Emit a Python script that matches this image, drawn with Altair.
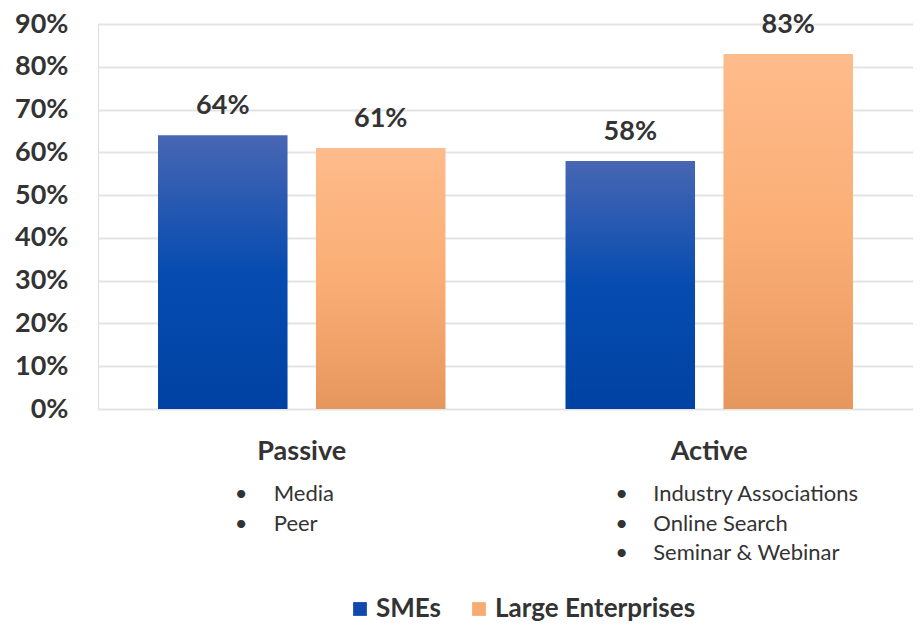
import altair as alt
import pandas as pd

groups = ["Passive", "Active"]
series = ["SMEs", "Large Enterprises"]
smes_values = [64, 58]
large_values = [61, 83]
passive_items = ["Media", "Peer"]
active_items = ["Industry Associations", "Online Search", "Seminar & Webinar"]
y_ticks = [0, 10, 20, 30, 40, 50, 60, 70, 80, 90]
legend_colors = ["#1048AE", "#F8AB72"]

rows = []
for g, s, l in zip(groups, smes_values, large_values):
    rows.append({"group": g, "series": "SMEs", "value": s})
    rows.append({"group": g, "series": "Large Enterprises", "value": l})
df = pd.DataFrame(rows)

items_df = pd.DataFrame({
    "group": groups,
    "items": ["\n".join(passive_items), "\n".join(active_items)],
    "bullets": ["\n".join("•" for _ in passive_items), "\n".join("•" for _ in active_items)],
})

W, H = 815, 385
FONT = "Lato"
TXT = "#333333"

x_scale = alt.Scale(paddingInner=0, paddingOuter=0)
x_axis = alt.Axis(labelFont=FONT, labelFontSize=27, labelFontWeight="bold",
                  labelColor=TXT, labelAngle=0, labelPadding=29,
                  ticks=False, domain=False, grid=False)
x_enc = alt.X("group:N", sort=groups, title=None, scale=x_scale, axis=x_axis)
xo_enc = alt.XOffset("series:N", sort=series,
                     scale=alt.Scale(domain=series, paddingInner=0.18, paddingOuter=0.38))
y_enc = alt.Y("value:Q", title=None,
              scale=alt.Scale(domain=[0, 90], nice=False),
              axis=alt.Axis(values=y_ticks, labelExpr="datum.value + '%'",
                            labelFont=FONT, labelFontSize=27, labelFontWeight="bold",
                            labelColor=TXT, labelPadding=30, ticks=False, domain=False,
                            gridColor="#E4E4E4", gridWidth=2))

base = alt.Chart(df).encode(x=x_enc, xOffset=xo_enc, y=y_enc)

blue_grad = alt.Gradient(gradient="linear", x1=0, y1=0, x2=0, y2=1, stops=[
    alt.GradientStop(offset=0, color="#4866B3"),
    alt.GradientStop(offset=0.5, color="#064CB0"),
    alt.GradientStop(offset=1, color="#0042A3"),
])
orange_grad = alt.Gradient(gradient="linear", x1=0, y1=0, x2=0, y2=1, stops=[
    alt.GradientStop(offset=0, color="#FEBB8B"),
    alt.GradientStop(offset=0.5, color="#FAAE75"),
    alt.GradientStop(offset=1, color="#E6975E"),
])

legend_layer = base.mark_bar(opacity=0).encode(
    color=alt.Color("series:N", sort=series,
                    scale=alt.Scale(domain=series, range=legend_colors),
                    legend=alt.Legend(title=None, orient="none", direction="horizontal",
                                      legendX=249, legendY=572,
                                      symbolType="square", symbolSize=190, symbolOpacity=1,
                                      symbolStrokeWidth=0, labelLimit=0,
                                      labelFont=FONT, labelFontSize=26, labelFontWeight="bold",
                                      labelColor=TXT, labelOffset=3, columnPadding=24))
)

smes_bars = base.mark_bar(fill=blue_grad).transform_filter(alt.datum.series == "SMEs")
large_bars = base.mark_bar(fill=orange_grad).transform_filter(alt.datum.series == "Large Enterprises")

value_labels = base.mark_text(font=FONT, fontSize=27, fontWeight="bold", color=TXT,
                              baseline="alphabetic", dy=-21).transform_calculate(
    lbl="datum.value + '%'").encode(text="lbl:N")

item_base = alt.Chart(items_df).encode(x=alt.X("group:N", sort=groups, title=None,
                                               scale=x_scale, axis=x_axis),
                                       y=alt.value(H + 75))
text_kw = dict(font=FONT, fontSize=22, color=TXT, align="left", baseline="top",
               lineBreak="\n", lineHeight=29.5)
p_bul = item_base.mark_text(dx=-67, **text_kw).encode(text="bullets:N").transform_filter(alt.datum.group == "Passive")
p_txt = item_base.mark_text(dx=-28, **text_kw).encode(text="items:N").transform_filter(alt.datum.group == "Passive")
a_bul = item_base.mark_text(dx=-94, **text_kw).encode(text="bullets:N").transform_filter(alt.datum.group == "Active")
a_txt = item_base.mark_text(dx=-56, **text_kw).encode(text="items:N").transform_filter(alt.datum.group == "Active")

chart = alt.layer(legend_layer, smes_bars, large_bars, value_labels,
                  p_bul, p_txt, a_bul, a_txt).properties(
    width=W, height=H,
    autosize=alt.AutoSizeParams(type="none"),
    padding={"left": 90, "top": 16, "right": 0, "bottom": 216}
).configure_view(stroke=None).configure(background="white")

chart.save("out.html", embed_options={"renderer": "svg", "actions": False})
